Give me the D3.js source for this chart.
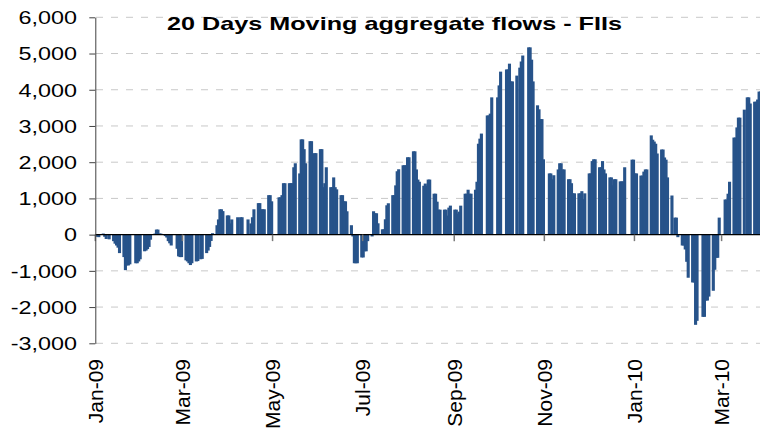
<!DOCTYPE html>
<html>
<head>
<meta charset="utf-8">
<title>20 Days Moving aggregate flows - FIIs</title>
<script src="https://d3js.org/d3.v7.min.js"></script>
<style>
  body { margin: 0; background: #fff; }
  text { font-family: "Liberation Sans", Arial, sans-serif; fill: #000; }
</style>
</head>
<body>
<script>
// Monday of each trading week, and the 20-day aggregate for Mon..Fri (null = market shut)
var weeks = [
  "2008-12-29", "2009-01-05", "2009-01-12", "2009-01-19", "2009-01-26", "2009-02-02",
  "2009-02-09", "2009-02-16", "2009-02-23", "2009-03-02", "2009-03-09", "2009-03-16",
  "2009-03-23", "2009-03-30", "2009-04-06", "2009-04-13", "2009-04-20", "2009-04-27",
  "2009-05-04", "2009-05-11", "2009-05-18", "2009-05-25", "2009-06-01", "2009-06-08",
  "2009-06-15", "2009-06-22", "2009-06-29", "2009-07-06", "2009-07-13", "2009-07-20",
  "2009-07-27", "2009-08-03", "2009-08-10", "2009-08-17", "2009-08-24", "2009-08-31",
  "2009-09-07", "2009-09-14", "2009-09-21", "2009-09-28", "2009-10-05", "2009-10-12",
  "2009-10-19", "2009-10-26", "2009-11-02", "2009-11-09", "2009-11-16", "2009-11-23",
  "2009-11-30", "2009-12-07", "2009-12-14", "2009-12-21", "2009-12-28", "2010-01-04",
  "2010-01-11", "2010-01-18", "2010-01-25", "2010-02-01", "2010-02-08", "2010-02-15",
  "2010-02-22", "2010-03-01", "2010-03-08", "2010-03-15", "2010-03-22"
];

var flows = [
  [null, null, null, -60, -70],
  [30, -60, -120, null, -130],
  [-180, -250, -300, -360, -510],
  [-620, -980, -850, -850, -820],
  [null, -790, -790, -740, -680],
  [-460, -440, -400, -340, -140],
  [30, 140, 140, 30, 30],
  [-40, -80, -180, -240, -300],
  [null, -390, -600, -620, -620],
  [-710, -740, -790, -840, -790],
  [-740, -730, null, -680, -670],
  [-510, -440, -340, -175, 40],
  [260, 420, 700, 700, 650],
  [530, 530, 310, 420, null],
  [480, null, 480, 480, null],
  [420, null, 310, 480, 700],
  [870, 870, 700, 700, 700],
  [1090, 1090, 920, null, null],
  [1030, 1030, 1090, 1420, 1420],
  [1420, 1420, 1420, 1860, 1970],
  [1690, 2630, 2630, 2360, 1970],
  [2580, 2580, 1750, 2250, 2250],
  [2360, 2360, 1310, 1420, 1860],
  [1310, 1310, 1580, 1310, 1250],
  [1090, 1090, 920, 920, 645],
  [260, -50, -790, -790, -790],
  [-630, -630, -460, -460, -180],
  [-50, 645, 590, 590, 313],
  [147, 147, 424, 810, 866],
  [1090, 1090, 1360, 1750, 1805],
  [1915, 1915, 1915, 2136, 2136],
  [2300, 2300, 1800, 1520, 1460],
  [1350, 1410, 1350, 1520, 1520],
  [1130, 1130, 910, 690, 690],
  [690, 690, 525, 746, 801],
  [690, 690, 580, 635, 800],
  [1130, 1130, 1240, 1130, 1130],
  [1240, 1460, 2510, 2650, 2790],
  [null, 3290, 3290, 3340, 3790],
  [null, 3790, 4120, 4500, null],
  [4560, 4560, 4720, 4230, 4230],
  [4390, null, 4610, 4780, 4945],
  [null, 5170, 5170, 4830, 4230],
  [3570, 3460, 3190, 3190, 2080],
  [null, 1690, 1690, 1530, 1640],
  [1800, 1970, 1970, 1800, 1800],
  [1530, 1530, 1420, 1140, 1140],
  [1140, 1140, 1200, 980, 1140],
  [1690, 1690, 2030, 2080, 2080],
  [1860, 1860, 2030, 1800, 1690],
  [1580, 1580, 1360, 1530, 1530],
  [1470, 1470, 1470, 1860, null],
  [null, 2070, 2070, 1690, 1690],
  [1630, 1630, 1740, 1800, 1800],
  [2740, 2620, 2570, 2510, 2240],
  [2350, 2350, 2130, 2070, 1580],
  [1080, null, 470, 470, -70],
  [-300, -300, -410, -750, -1190],
  [-1320, -1320, -2490, -2380, null],
  [-2270, -2270, -1820, -1820, -1710],
  [-1550, -970, -640, -640, 470],
  [null, 970, 970, 1130, 1460],
  [2680, 2680, 2960, 3230, 3230],
  [3450, null, 3790, 3790, 3620],
  [3670, 3670, 3730, 3950, 3950]
];

var yTicks = [-3000, -2000, -1000, 0, 1000, 2000, 3000, 4000, 5000, 6000];
var monthTicks = ["2009-01-01", "2009-03-01", "2009-05-01", "2009-07-01",
                  "2009-09-01", "2009-11-01", "2010-01-01", "2010-03-01"];

var width = 760, height = 431;
var parse = d3.timeParse("%Y-%m-%d");
var startDay = parse("2009-01-01");

// flatten weeks into one row per trading day
var rows = [];
weeks.forEach(function (w, i) {
  var monday = parse(w);
  flows[i].forEach(function (v, d) {
    var day = d3.timeDay.offset(monday, d);
    if (v === null || day < startDay) return;
    rows.push({ date: day, value: v });
  });
});

var x = d3.scaleTime()
  .domain([startDay, parse("2010-03-27")])
  .range([95.3, 760]);
var y = d3.scaleLinear()
  .domain([-3000, 6000])
  .range([343.3, 17.3]);

// plain hyphen for negatives, like the original
var fmtNum = d3.formatLocale({ decimal: ".", thousands: ",", grouping: [3], currency: ["", ""], minus: "-" }).format(",");

var svg = d3.select("body").append("svg")
  .attr("width", width)
  .attr("height", height);

// dashed gridlines
svg.append("g")
  .selectAll("line")
  .data(yTicks.filter(function (t) { return t !== 0; }))
  .enter().append("line")
  .attr("x1", 96).attr("x2", width)
  .attr("y1", function (d) { return y(d); })
  .attr("y2", function (d) { return y(d); })
  .style("stroke", "#c8c8c8")
  .style("stroke-width", 1)
  .style("stroke-dasharray", "7,8");

// bars - a bit wider than a day, so weekdays touch and weekends leave a thin gap
var barW = 3.1;
svg.append("g")
  .selectAll("rect")
  .data(rows)
  .enter().append("rect")
  .attr("x", function (d) { return x(d.date) + 0.5; })
  .attr("width", barW)
  .attr("y", function (d) { return y(Math.max(0, d.value)); })
  .attr("height", function (d) { return Math.abs(y(d.value) - y(0)); })
  .style("fill", "#27538a");

// zero line
svg.append("line")
  .attr("x1", x.range()[0]).attr("x2", width)
  .attr("y1", y(0)).attr("y2", y(0))
  .style("stroke", "#000")
  .style("stroke-width", 1.3);

// month ticks + rotated labels
var fmtMonth = d3.timeFormat("%b-%y");
var months = monthTicks.map(parse);
svg.append("g")
  .selectAll("line")
  .data(months)
  .enter().append("line")
  .attr("x1", function (d) { return x(d); })
  .attr("x2", function (d) { return x(d); })
  .attr("y1", y(0)).attr("y2", y(0) + 6.5)
  .style("stroke", "#7a7a7a")
  .style("stroke-width", 1.5);

svg.append("g")
  .selectAll("text")
  .data(months)
  .enter().append("text")
  .attr("transform", function (d) { return "translate(" + x(d) + ",359)rotate(-90)"; })
  .attr("dy", "0.36em")
  .attr("text-anchor", "end")
  .style("font-size", "21px")
  .text(function (d) { return fmtMonth(d); });

// y axis
var yAxis = svg.append("g")
  .attr("transform", "translate(" + x.range()[0] + ",0)")
  .call(d3.axisLeft(y).tickValues(yTicks).tickSize(6).tickSizeOuter(0).tickFormat(fmtNum));
yAxis.select(".domain").style("stroke", "#404040");
yAxis.selectAll(".tick line").style("stroke", "#404040");
yAxis.selectAll(".tick text")
  .attr("x", -14.1)
  .attr("dy", "0.35em")
  .attr("transform", "scale(1.3,1)")
  .style("font-size", "18px")
  .style("font-family", "'Liberation Sans', Arial, sans-serif")
  .style("fill", "#000");

// title
svg.append("text")
  .attr("x", 167)
  .attr("y", 29.5)
  .attr("textLength", 455)
  .attr("lengthAdjust", "spacingAndGlyphs")
  .style("font-size", "18.5px")
  .style("font-weight", "bold")
  .text("20 Days Moving aggregate flows - FIIs");
</script>
</body>
</html>
